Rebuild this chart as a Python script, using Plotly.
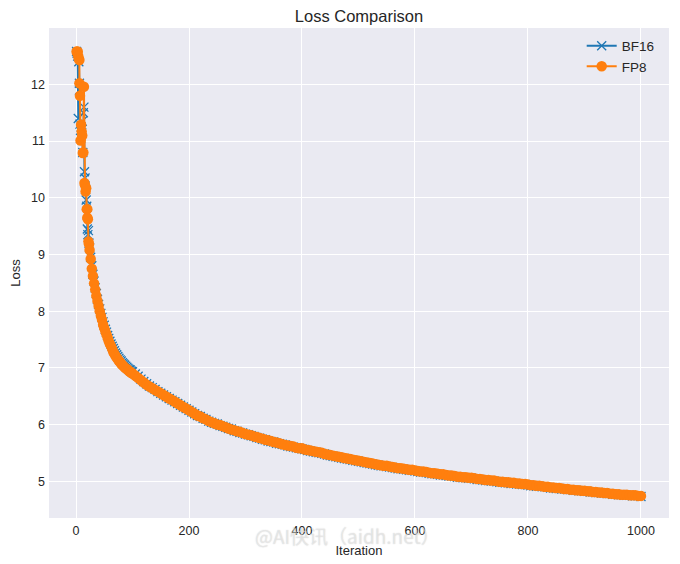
import plotly.graph_objects as go

# values, dense at the start where the loss drops fast
iter_start = [1, 2, 3, 4, 5, 6, 6, 7, 8, 9, 10, 11, 12, 13, 14, 15, 16, 17, 18, 19, 20, 20, 21, 22, 23]
bf16_start = [12.58, 12.55, 12.5, 11.4, 12.4, 12.02, 11.9, 11.3, 11.05, 11.25, 11.15, 11.35, 10.8, 11.5, 11.6,
              10.46, 10.35, 10.15, 9.96, 9.85, 9.7, 9.45, 9.35, 9.42, 9.2]
fp8_start = [12.58, 12.56, 12.58, 12.5, 12.45, 12.43, 12.02, 11.8, 11.01, 11.29, 11.17, 11.1, 10.79, 10.8, 11.96,
             10.26, 10.22, 10.11, 10.17, 9.8, 9.8, 9.65, 9.62, 9.23, 9.18]

iter_early = [24, 26, 28, 30, 32, 34, 36, 38, 40, 42, 44, 46, 48, 50, 52, 54, 56, 58, 60,
              62, 64, 66, 68, 70, 72, 74, 76, 78, 80, 82, 84, 86, 88, 90, 92, 94, 96, 98]
bf16_early = [9.12, 8.95, 8.8, 8.65, 8.53, 8.41, 8.31, 8.21, 8.12, 8.04, 7.96, 7.89, 7.81, 7.75, 7.68, 7.63, 7.57, 7.52, 7.47,
              7.42, 7.38, 7.34, 7.3, 7.26, 7.23, 7.2, 7.17, 7.14, 7.12, 7.09, 7.07, 7.05, 7.03, 7.01, 6.99, 6.97, 6.96, 6.94]
fp8_early = [9.08, 8.92, 8.75, 8.62, 8.49, 8.38, 8.27, 8.18, 8.09, 8.0, 7.92, 7.85, 7.76, 7.7, 7.64, 7.59, 7.53, 7.47, 7.42,
             7.38, 7.33, 7.28, 7.25, 7.21, 7.18, 7.15, 7.12, 7.1, 7.07, 7.05, 7.03, 7.01, 6.99, 6.98, 6.96, 6.94, 6.93, 6.91]

iter_late = [100, 105, 110, 115, 120, 125, 130, 135, 140, 145, 150, 155, 160, 165, 170, 175, 180, 185, 190, 195,
             200, 205, 210, 215, 220, 225, 230, 235, 240, 245, 250, 255, 260, 265, 270, 275, 280, 285, 290, 295,
             300, 305, 310, 315, 320, 325, 330, 335, 340, 345, 350, 355, 360, 365, 370, 375, 380, 385, 390, 395,
             400, 405, 410, 415, 420, 425, 430, 435, 440, 445, 450, 455, 460, 465, 470, 475, 480, 485, 490, 495,
             500, 505, 510, 515, 520, 525, 530, 535, 540, 545, 550, 555, 560, 565, 570, 575, 580, 585, 590, 595,
             600, 605, 610, 615, 620, 625, 630, 635, 640, 645, 650, 655, 660, 665, 670, 675, 680, 685, 690, 695,
             700, 705, 710, 715, 720, 725, 730, 735, 740, 745, 750, 755, 760, 765, 770, 775, 780, 785, 790, 795,
             800, 805, 810, 815, 820, 825, 830, 835, 840, 845, 850, 855, 860, 865, 870, 875, 880, 885, 890, 895,
             900, 905, 910, 915, 920, 925, 930, 935, 940, 945, 950, 955, 960, 965, 970, 975, 980, 985, 990, 995, 1000]
bf16_late = [6.93, 6.89, 6.85, 6.8, 6.76, 6.72, 6.68, 6.65, 6.62, 6.58, 6.55, 6.52, 6.49, 6.46, 6.43, 6.4, 6.37, 6.34, 6.31, 6.28,
             6.25, 6.22, 6.19, 6.16, 6.14, 6.11, 6.09, 6.06, 6.04, 6.02, 6.01, 5.98, 5.97, 5.95, 5.93, 5.92, 5.89, 5.88, 5.86, 5.85,
             5.83, 5.82, 5.8, 5.79, 5.77, 5.76, 5.74, 5.73, 5.71, 5.7, 5.69, 5.67, 5.66, 5.65, 5.64, 5.62, 5.61, 5.6, 5.59, 5.58,
             5.57, 5.56, 5.54, 5.53, 5.52, 5.51, 5.5, 5.49, 5.48, 5.46, 5.45, 5.44, 5.43, 5.42, 5.41, 5.4, 5.39, 5.38, 5.37, 5.36,
             5.35, 5.34, 5.33, 5.32, 5.31, 5.3, 5.29, 5.28, 5.27, 5.27, 5.26, 5.25, 5.24, 5.23, 5.22, 5.22, 5.21, 5.2, 5.19, 5.19,
             5.18, 5.17, 5.16, 5.16, 5.15, 5.14, 5.13, 5.13, 5.12, 5.11, 5.11, 5.1, 5.09, 5.09, 5.08, 5.07, 5.07, 5.06, 5.06, 5.05,
             5.05, 5.04, 5.03, 5.03, 5.02, 5.01, 5.01, 5.0, 5.0, 4.99, 4.98, 4.98, 4.97, 4.97, 4.96, 4.96, 4.95, 4.95, 4.94, 4.94,
             4.93, 4.92, 4.92, 4.91, 4.91, 4.9, 4.9, 4.89, 4.88, 4.88, 4.87, 4.87, 4.86, 4.86, 4.85, 4.85, 4.84, 4.84, 4.83, 4.83,
             4.82, 4.82, 4.81, 4.81, 4.8, 4.8, 4.79, 4.79, 4.78, 4.78, 4.77, 4.77, 4.76, 4.76, 4.75, 4.75, 4.75, 4.74, 4.74, 4.74, 4.73]
fp8_late = [6.9, 6.86, 6.82, 6.78, 6.74, 6.7, 6.67, 6.64, 6.61, 6.58, 6.55, 6.52, 6.49, 6.46, 6.43, 6.4, 6.37, 6.34, 6.31, 6.28,
            6.25, 6.22, 6.19, 6.16, 6.14, 6.11, 6.09, 6.06, 6.04, 6.02, 6.0, 5.99, 5.97, 5.95, 5.93, 5.91, 5.9, 5.88, 5.87, 5.85,
            5.83, 5.82, 5.81, 5.79, 5.78, 5.76, 5.75, 5.73, 5.72, 5.71, 5.69, 5.68, 5.67, 5.65, 5.64, 5.63, 5.62, 5.61, 5.59, 5.58,
            5.58, 5.56, 5.55, 5.54, 5.53, 5.52, 5.51, 5.5, 5.48, 5.47, 5.46, 5.45, 5.44, 5.43, 5.42, 5.41, 5.4, 5.39, 5.38, 5.37,
            5.36, 5.35, 5.34, 5.33, 5.32, 5.31, 5.3, 5.29, 5.28, 5.27, 5.27, 5.26, 5.25, 5.24, 5.23, 5.23, 5.22, 5.21, 5.2, 5.2,
            5.19, 5.18, 5.17, 5.17, 5.16, 5.15, 5.14, 5.14, 5.13, 5.12, 5.12, 5.11, 5.1, 5.1, 5.09, 5.08, 5.08, 5.07, 5.07, 5.06,
            5.06, 5.05, 5.04, 5.04, 5.03, 5.02, 5.02, 5.01, 5.01, 5.0, 4.99, 4.99, 4.98, 4.98, 4.97, 4.97, 4.96, 4.96, 4.95, 4.95,
            4.94, 4.93, 4.93, 4.92, 4.92, 4.91, 4.9, 4.9, 4.89, 4.89, 4.88, 4.88, 4.87, 4.86, 4.86, 4.85, 4.85, 4.84, 4.84, 4.83,
            4.83, 4.82, 4.82, 4.81, 4.81, 4.8, 4.8, 4.79, 4.79, 4.78, 4.78, 4.77, 4.77, 4.76, 4.76, 4.76, 4.75, 4.75, 4.75, 4.74, 4.74]

iterations = iter_start + iter_early + iter_late
bf16 = bf16_start + bf16_early + bf16_late
fp8 = fp8_start + fp8_early + fp8_late

fig = go.Figure()
fig.add_trace(go.Scatter(x=iterations, y=bf16, name="BF16", mode="lines+markers",
                         line=dict(color="#1f77b4", width=2),
                         marker=dict(symbol="x-thin", size=9, line=dict(color="#1f77b4", width=1.3))))
fig.add_trace(go.Scatter(x=iterations, y=fp8, name="FP8", mode="lines+markers",
                         line=dict(color="#ff7f0e", width=2),
                         marker=dict(symbol="circle", size=10.5, color="#ff7f0e")))

# the page adds 8px around the figure, so left/top are 8 less than in the picture
fig.update_layout(
    width=672, height=556,
    margin=dict(l=41, r=11, t=20, b=46, autoexpand=False),
    paper_bgcolor="white", plot_bgcolor="#EAEAF2",
    font=dict(family="Liberation Sans", size=12.5, color="#262626"),
    title=dict(text="Loss Comparison", font=dict(size=16.5), x=0.5, xanchor="center", xref="paper",
               y=1, yref="container", yanchor="top", pad=dict(t=2)),
    legend=dict(x=0.985, y=0.995, xanchor="right", yanchor="top", bgcolor="rgba(0,0,0,0)",
                font=dict(size=13.5)),
    annotations=[dict(text="@AI快讯（aidh.net）", xref="paper", yref="paper", x=0.4807, y=-0.035,
                      xanchor="center", yanchor="middle", showarrow=False,
                      font=dict(family="Noto Sans CJK SC", size=19, color="rgba(255,255,255,0.45)",
                                shadow="0 0 1px #888888"))],
)
fig.update_xaxes(range=[-47.8, 1049.6], tickvals=[0, 200, 400, 600, 800, 1000], title_text="Iteration",
                 title_font_size=13, title_standoff=9, ticklabelstandoff=3, automargin=False,
                 gridcolor="white", gridwidth=1, zeroline=False, showline=False, ticks="")
fig.update_yaxes(range=[4.35, 12.996], tickvals=[5, 6, 7, 8, 9, 10, 11, 12], title_text="Loss",
                 title_font_size=13, title_standoff=9, ticklabelstandoff=3, automargin=False,
                 gridcolor="white", gridwidth=1, zeroline=False, showline=False, ticks="")

fig.write_html("out.html")
